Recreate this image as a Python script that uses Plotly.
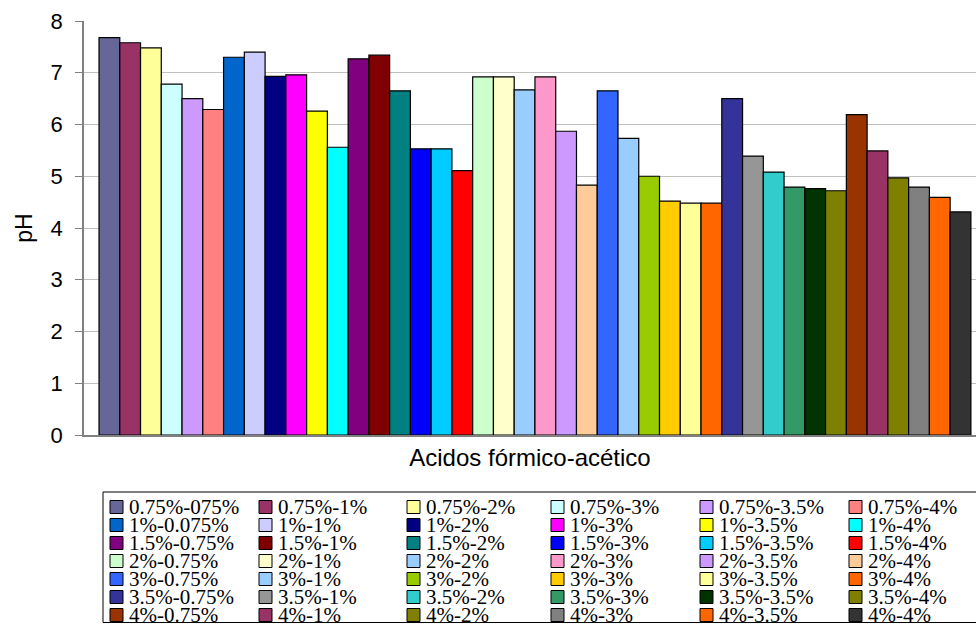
import plotly.graph_objects as go

# pH of each formic/acetic acid concentration pair
series_names = [
    "0.75%-075%", "0.75%-1%", "0.75%-2%", "0.75%-3%", "0.75%-3.5%", "0.75%-4%",
    "1%-0.075%", "1%-1%", "1%-2%", "1%-3%", "1%-3.5%", "1%-4%",
    "1.5%-0.75%", "1.5%-1%", "1.5%-2%", "1.5%-3%", "1.5%-3.5%", "1.5%-4%",
    "2%-0.75%", "2%-1%", "2%-2%", "2%-3%", "2%-3.5%", "2%-4%",
    "3%-0.75%", "3%-1%", "3%-2%", "3%-3%", "3%-3.5%", "3%-4%",
    "3.5%-0.75%", "3.5%-1%", "3.5%-2%", "3.5%-3%", "3.5%-3.5%", "3.5%-4%",
    "4%-0.75%", "4%-1%", "4%-2%", "4%-3%", "4%-3.5%", "4%-4%",
]
ph_values = [
    7.68, 7.58, 7.48, 6.78, 6.50, 6.29,
    7.30, 7.40, 6.93, 6.96, 6.26, 5.56,
    7.27, 7.34, 6.65, 5.53, 5.53, 5.11,
    6.92, 6.92, 6.67, 6.92, 5.87, 4.83,
    6.65, 5.73, 5.00, 4.52, 4.48, 4.48,
    6.50, 5.39, 5.08, 4.79, 4.76, 4.72,
    6.19, 5.49, 4.97, 4.79, 4.59, 4.31,
]
bar_colors = [
    "#666699", "#993366", "#FFFF99", "#CCFFFF", "#CC99FF", "#FF8080",
    "#0066CC", "#CCCCFF", "#000080", "#FF00FF", "#FFFF00", "#00FFFF",
    "#800080", "#800000", "#008080", "#0000FF", "#00CCFF", "#FF0000",
    "#CCFFCC", "#FFFFCC", "#99CCFF", "#FF99CC", "#CC99FF", "#FFCC99",
    "#3366FF", "#99CCFF", "#99CC00", "#FFCC00", "#FFFF99", "#FF6600",
    "#333399", "#969696", "#33CCCC", "#339966", "#003300", "#808000",
    "#993300", "#993366", "#808000", "#808080", "#FF6600", "#333333",
]
category = "Acidos fórmico-acético"
y_ticks = [0, 1, 2, 3, 4, 5, 6, 7, 8]

W, H = 976, 624
M_L, M_R, M_T, M_B = 84, 0, 21, 189
PW, PH = W - M_L - M_R, H - M_T - M_B

fig = go.Figure()
for name, val, col in zip(series_names, ph_values, bar_colors):
    fig.add_trace(go.Bar(
        x=[category], y=[val], name=name, showlegend=False,
        marker=dict(color=col, line=dict(color="#000000", width=1.2)),
    ))


def px_x(px):
    return (px - M_L) / PW


def px_y(py):
    return (H - M_B - py) / PH


# boxed legend: 6 columns x 7 rows
shapes = [dict(type="rect", xref="paper", yref="paper",
               x0=px_x(103), x1=px_x(990), y0=px_y(622.5), y1=px_y(492),
               line=dict(color="#000000", width=1), fillcolor="rgba(0,0,0,0)")]
annotations = []
col_left = [110, 259, 407, 551, 700, 849]
row0, row_step, sw = 507, 18, 13
for i, (name, col) in enumerate(zip(series_names, bar_colors)):
    r, c = divmod(i, 6)
    cx, cy = col_left[c], row0 + r * row_step
    shapes.append(dict(type="rect", xref="paper", yref="paper",
                       x0=px_x(cx), x1=px_x(cx + sw),
                       y0=px_y(cy + sw / 2), y1=px_y(cy - sw / 2),
                       fillcolor=col, line=dict(color="#000000", width=1)))
    annotations.append(dict(xref="paper", yref="paper", x=px_x(cx + 18), y=px_y(cy),
                            xanchor="left", yanchor="middle", showarrow=False,
                            borderpad=0,
                            text=name, font=dict(family="Liberation Serif", size=21, color="#000000")))

fig.update_layout(
    width=W, height=H,
    margin=dict(l=M_L, r=M_R, t=M_T, b=M_B, autoexpand=False),
    paper_bgcolor="white", plot_bgcolor="white",
    barmode="group", bargap=0.0333, bargroupgap=0,
    showlegend=False,
    font=dict(family="Liberation Sans", color="#000000"),
    xaxis=dict(range=[-0.5, 0.489], showticklabels=False, ticks="",
               showline=True, linecolor="#808080", linewidth=1.5,
               title=dict(text=category, font=dict(size=24), standoff=13)),
    yaxis=dict(range=[0, 8], tickvals=y_ticks, ticks="outside", ticklen=7,
               tickcolor="#808080", showline=True, linecolor="#808080", linewidth=1.5,
               showgrid=True, gridcolor="#C0C0C0", gridwidth=1, zeroline=False,
               tickfont=dict(size=22), ticklabelstandoff=8,
               title=dict(text="pH", font=dict(size=23), standoff=12)),
    shapes=shapes, annotations=annotations,
)

fig.write_html("out.html")
